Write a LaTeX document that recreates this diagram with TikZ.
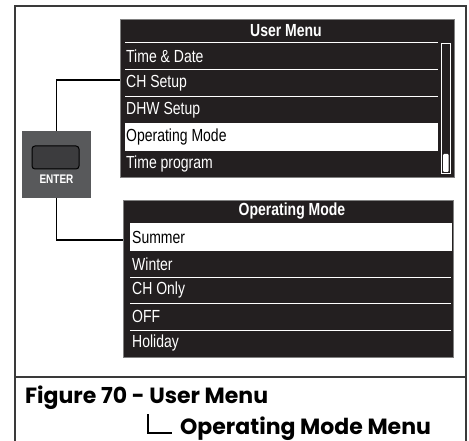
\documentclass[tikz,border=0pt]{standalone}
\usepackage{fontspec}
\setmainfont{Liberation Sans}
\newfontfamily\menufont[FakeStretch=0.8]{Liberation Sans}
\newfontfamily\capfont{Poppins}
\definecolor{dark}{HTML}{231F20}
\definecolor{boxgrey}{HTML}{808080}
\definecolor{entergrey}{HTML}{58595B}
\definecolor{btn}{HTML}{3C3C3E}
\definecolor{framec}{HTML}{3A3A3A}
\begin{document}
\begin{tikzpicture}[x=1pt,y=-1pt,
  menubox/.style={draw=boxgrey, fill=dark, line width=1.3pt, inner sep=0pt, anchor=north west},
  titletext/.style={text=white, font=\menufont\fontsize{17.5}{17.5}\selectfont\bfseries, inner sep=0pt},
  rowtext/.style={text=white, font=\menufont\fontsize{17.5}{17.5}\selectfont, inner sep=0pt, anchor=west},
  seltext/.style={rowtext, text=black},
  sep/.style={white, line width=1pt},
  conn/.style={black, line width=1.8pt},
  captext/.style={font=\capfont\fontsize{22}{22}\selectfont\bfseries, inner sep=0pt, anchor=base west}
]
\useasboundingbox (0,0) rectangle (469,441);
% outer frame
\draw[framec, line width=1.5pt] (15,441) -- (15,6) -- (466,6) -- (466,441);
\draw[framec, line width=1.5pt] (15,377) -- (466,377);

% User Menu box
\node[menubox, minimum width=334pt, minimum height=158pt] (um) at (120,19) {};
\node[titletext] (umt) at (286,31) {User Menu};
\foreach \yy in {43,70,97} \draw[sep] (125,\yy) -- (438,\yy);
\fill[white] (125,123) rectangle (438,151);
\node[rowtext] (r1) at (126,56.5) {Time \& Date};
\node[rowtext] (r2) at (126,83.5) {CH Setup};
\node[rowtext] (r3) at (126,110) {DHW Setup};
\node[seltext] (r4) at (126,137) {Operating Mode};
\node[rowtext] (r5) at (126,164) {Time program};
% scrollbar
\draw[white, line width=0.8pt] (441.5,43) rectangle (450,173);
\fill[white, rounded corners=1pt] (443,154) rectangle (448.5,172);

% Operating Mode box
\node[menubox, minimum width=330pt, minimum height=157pt] (om) at (123,200) {};
\node[titletext] (omt) at (292,211.5) {Operating Mode};
\fill[white] (130,223) rectangle (452,251);
\foreach \yy in {277,303,330} \draw[sep] (130,\yy) -- (451,\yy);
\node[seltext] (s1) at (132,237) {Summer};
\node[rowtext] (s2) at (132,264) {Winter};
\node[rowtext] (s3) at (132,290) {CH Only};
\node[rowtext] (s4) at (132,316.5) {OFF};
\node[rowtext] (s5) at (132,342.5) {Holiday};

% ENTER key
\node[fill=entergrey, minimum width=69pt, minimum height=67pt, inner sep=0pt] (enter) at (56.5,164.5) {};
\node[draw=black, fill=btn, line width=1pt, rounded corners=3pt, minimum width=47pt, minimum height=23pt, inner sep=0pt] (button) at (55.5,157.5) {};
\node[text=white, font=\menufont\fontsize{12.5}{12.5}\selectfont\bfseries, inner sep=0pt] (entert) at (56.5,179) {ENTER};

% connectors
\draw[conn] ([yshift=19pt]um.west) -| (enter.north);
\draw[conn] (enter.south) |- ([yshift=39.5pt]om.west);

% caption
\node[captext] (cap1) at (25,403) {Figure 70 - User Menu};
\node[captext] (cap2) at (180,434) {Operating Mode Menu};
\draw[black, line width=1.8pt] (148,414) -- (148,433) -- (172,433);
\end{tikzpicture}
\end{document}
